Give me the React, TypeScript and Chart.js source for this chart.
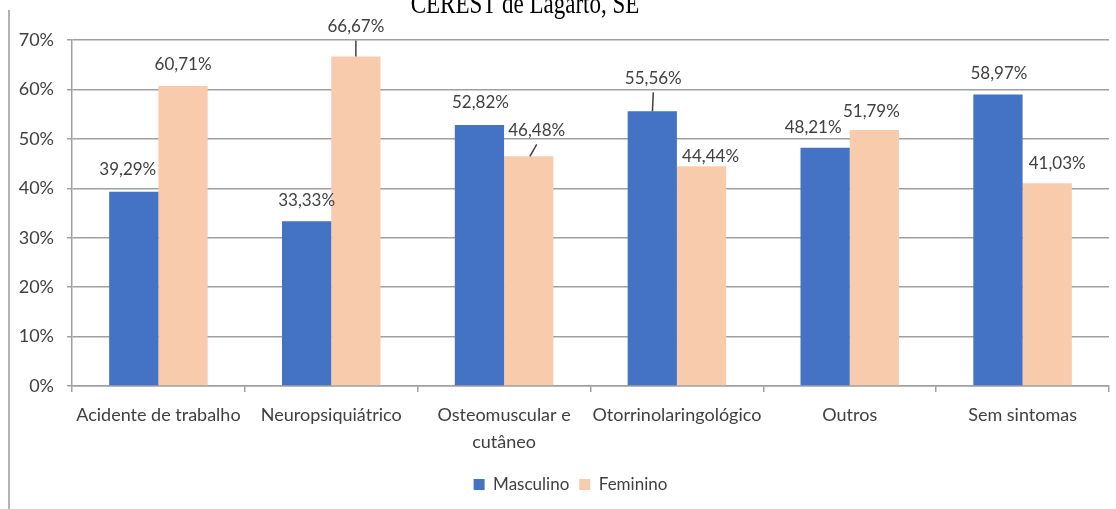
import React, { useEffect, useRef } from "react";
import { Chart, registerables } from "chart.js";

Chart.register(...registerables);

const categories: (string | string[])[] = [
  "Acidente de trabalho",
  "Neuropsiquiátrico",
  ["Osteomuscular e", "cutâneo"],
  "Otorrinolaringológico",
  "Outros",
  "Sem sintomas",
];
const masculino = [39.29, 33.33, 52.82, 55.56, 48.21, 58.97];
const feminino = [60.71, 66.67, 46.48, 44.44, 51.79, 41.03];
const yTicks = [0, 10, 20, 30, 40, 50, 60, 70];
const seriesNames = ["Masculino", "Feminino"];
const titleText = "CEREST de Lagarto, SE";

// label placement tweaks (pixels relative to bar top), styling only
const labelShiftM = [[-6, -22], [0, -21], [1, -22], [1, -33], [-12, -20], [1, -21]];
const labelShiftF = [[0, -21], [0, -30], [8, -26], [9, -10], [-3, -18], [10, -20]];
const leaderM = [false, false, false, true, false, false];
const leaderF = [false, true, true, false, false, false];

const FONT = "Lato, 'Noto Sans', sans-serif";
const TEXT = "#404040";
const GRID = "#a0a0a0";

const fmt = (v: number) => v.toFixed(2).replace(".", ",") + "%";

const labelsPlugin = {
  id: "barLabels",
  afterDatasetsDraw(chart: any) {
    const ctx = chart.ctx;
    ctx.save();
    ctx.font = `17px ${FONT}`;
    ctx.fillStyle = TEXT;
    ctx.textAlign = "center";
    ctx.textBaseline = "middle";
    const shifts = [labelShiftM, labelShiftF];
    const leaders = [leaderM, leaderF];
    chart.data.datasets.forEach((ds: any, di: number) => {
      const meta = chart.getDatasetMeta(di);
      meta.data.forEach((bar: any, i: number) => {
        const [dx, dy] = shifts[di][i];
        const lx = bar.x + dx;
        const ly = bar.y + dy;
        ctx.fillText(fmt(ds.data[i]), lx, ly);
        if (leaders[di][i]) {
          ctx.beginPath();
          ctx.strokeStyle = TEXT;
          ctx.lineWidth = 1.5;
          ctx.moveTo(lx, ly + 14);
          ctx.lineTo(bar.x + dx * 0.15, bar.y);
          ctx.stroke();
        }
      });
    });
    ctx.restore();
  },
};

const decorPlugin = {
  id: "decor",
  afterLayout(chart: any) {
    const lg = chart.legend;
    if (lg) {
      lg.left += 10;
      lg.right += 10;
    }
  },
  afterDraw(chart: any) {
    const ctx = chart.ctx;
    ctx.save();
    ctx.strokeStyle = "#9a9a9a";
    ctx.lineWidth = 1.5;
    ctx.beginPath();
    ctx.moveTo(9, 10);
    ctx.lineTo(9, 509);
    ctx.stroke();
    ctx.translate(525, 12.5);
    ctx.scale(1, 1.3);
    ctx.font = `23px 'Liberation Serif', 'Times New Roman', serif`;
    ctx.fillStyle = "#000";
    ctx.textAlign = "center";
    ctx.textBaseline = "alphabetic";
    ctx.fillText(titleText, 0, 0);
    ctx.restore();
  },
};

export default function App() {
  const ref = useRef<HTMLCanvasElement | null>(null);
  useEffect(() => {
    if (!ref.current) return;
    const chart = new Chart(ref.current, {
      type: "bar",
      data: {
        labels: categories,
        datasets: [
          {
            label: seriesNames[0],
            data: masculino,
            backgroundColor: "#4472C4",
            categoryPercentage: 0.57,
            barPercentage: 1.0,
          },
          {
            label: seriesNames[1],
            data: feminino,
            backgroundColor: "#F8CBAD",
            categoryPercentage: 0.57,
            barPercentage: 1.0,
          },
        ],
      },
      options: {
        responsive: false,
        animation: false,
        layout: { padding: { left: 12, top: 40, right: 7, bottom: 6 } },
        plugins: {
          legend: {
            position: "bottom",
            labels: {
              font: { family: FONT, size: 17 },
              color: TEXT,
              boxWidth: 11,
              boxHeight: 11,
              padding: 10,
            },
          },
          tooltip: { enabled: false },
          title: { display: false },
        },
        scales: {
          x: {
            grid: {
              drawOnChartArea: false,
              drawTicks: true,
              tickLength: 6,
              color: GRID,
              lineWidth: 1.5,
              offset: true,
            },
            border: { display: true, color: GRID, width: 1.5 },
            ticks: {
              font: { family: FONT, size: 18, lineHeight: 1.5 },
              color: TEXT,
              padding: 10,
              maxRotation: 0,
              autoSkip: false,
            },
            afterFit(scale: any) {
              scale.height = 80;
            },
          },
          y: {
            min: 0,
            max: 70,
            afterBuildTicks(scale: any) {
              scale.ticks = yTicks.map((v) => ({ value: v }));
            },
            grid: { color: GRID, lineWidth: 1.5, tickLength: 5, drawTicks: true },
            border: { display: true, color: GRID, width: 1.5 },
            ticks: {
              font: { family: FONT, size: 18 },
              color: TEXT,
              padding: 13,
              callback: (v: any) => `${v}%`,
            },
            afterFit(scale: any) {
              scale.width = 60;
            },
          },
        },
      },
      plugins: [labelsPlugin, decorPlugin],
    });
    return () => chart.destroy();
  }, []);
  return (
    <canvas
      ref={ref}
      width={1116}
      height={509}
      style={{ position: "absolute", left: 0, top: 0, width: 1116, height: 509 }}
    />
  );
}
